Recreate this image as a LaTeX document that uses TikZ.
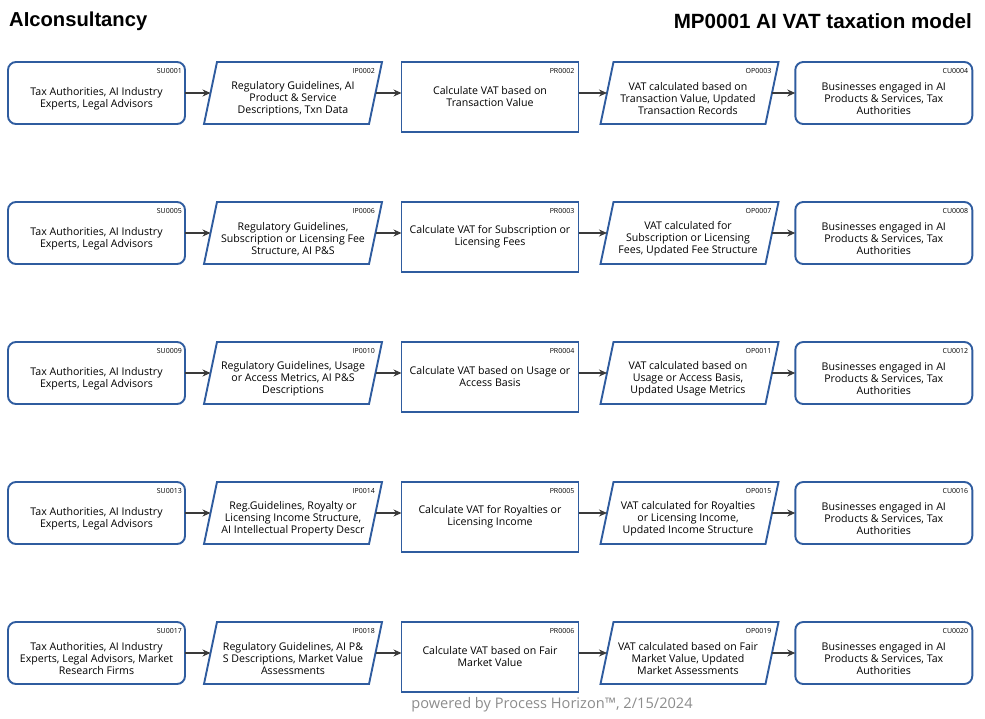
\documentclass[tikz,border=0pt]{standalone}
\usepackage{fontspec}
\setmainfont{Open Sans}
\newfontfamily\titlefont{Liberation Sans}
\usetikzlibrary{calc,arrows.meta}
\definecolor{bcol}{HTML}{2F5C9F}
\definecolor{acol}{HTML}{3A3A3A}
\definecolor{fcol}{HTML}{8C8C8C}
\newcommand\mkrow[2]{%
 \node[rbox] (su#1) at (96.5,{#2+31}) {};
 \node[pbox] (ip#1) at (293,{#2+31}) {};
 \node[prbox] (pr#1) at (490,{#2+35}) {};
 \node[pbox] (op#1) at (689.5,{#2+31}) {};
 \node[rbox] (cu#1) at (883.8,{#2+31}) {};
 \foreach \nn in {ip#1,op#1} \draw[pbord] ($(\nn.south west)+(-6.5,0)$) -- ($(\nn.north west)+(6.5,0)$) -- ($(\nn.north east)+(6.5,0)$) -- ($(\nn.south east)+(-6.5,0)$) -- cycle;
 \draw[arr] (su#1.east) -- (ip#1.west);
 \draw[arr] (ip#1.east) -- (ip#1.east -| pr#1.west);
 \draw[arr] (pr#1.east |- op#1.west) -- (op#1.west);
 \draw[arr] (op#1.east) -- (cu#1.west);
}
\newcommand\mkids[6]{%
 \node[idl] (su#1id) at ($(su#1.north east)+(-3,9)$) {#2};
 \node[idl] (ip#1id) at ($(ip#1.north east)+(-0.5,9)$) {#3};
 \node[idl] (pr#1id) at ($(pr#1.north east)+(-4,9)$) {#4};
 \node[idl] (op#1id) at ($(op#1.north east)+(-0.5,9)$) {#5};
 \node[idl] (cu#1id) at ($(cu#1.north east)+(-4,9)$) {#6};
}
\begin{document}
\begin{tikzpicture}[x=1pt,y=-1pt,
  box/.style={draw=bcol, line width=1.9pt, minimum width=177pt, minimum height=62pt, inner sep=0pt, outer sep=0pt},
  rbox/.style={box, rounded corners=8pt},
  prbox/.style={box, minimum height=70pt},
  pbox/.style={minimum width=165pt, minimum height=62pt, inner sep=0pt, outer sep=0pt},
  pbord/.style={draw=bcol, line width=1.9pt, line join=miter},
  txt/.style={align=center, font=\fontsize{10.6}{12}\selectfont, inner sep=0pt},
  idl/.style={anchor=east, font=\fontsize{7}{8}\selectfont, inner sep=0pt},
  arr/.style={draw=acol, line width=1.3pt, -{Stealth[length=8pt,width=7pt]}}
]
\useasboundingbox (0,0) rectangle (985,718);
\node[anchor=west, inner sep=0pt, font=\titlefont\bfseries\fontsize{20.2}{24}\selectfont] (title) at (9,21) {AIconsultancy};
\node[anchor=east, inner sep=0pt, font=\titlefont\bfseries\fontsize{20.6}{24}\selectfont] (model) at (972,21) {MP0001 AI VAT taxation model};

\mkrow{1}{62}
\mkrow{2}{202}
\mkrow{3}{342}
\mkrow{4}{482}
\mkrow{5}{622}

\mkids{1}{SU0001}{IP0002}{PR0002}{OP0003}{CU0004}
\mkids{2}{SU0005}{IP0006}{PR0003}{OP0007}{CU0008}
\mkids{3}{SU0009}{IP0010}{PR0004}{OP0011}{CU0012}
\mkids{4}{SU0013}{IP0014}{PR0005}{OP0015}{CU0016}
\mkids{5}{SU0017}{IP0018}{PR0006}{OP0019}{CU0020}

% row 1
\node[txt] (su1t) at (96.5,99) {Tax Authorities, AI Industry\\Experts, Legal Advisors};
\node[txt] (ip1t) at (293,99) {Regulatory Guidelines, AI\\Product \& Service\\Descriptions, Txn Data};
\node[txt] (pr1t) at (490,97) {Calculate VAT based on\\Transaction Value};
\node[txt] (op1t) at (688,99) {VAT calculated based on\\Transaction Value, Updated\\Transaction Records};
\node[txt] (cu1t) at (883.8,99) {Businesses engaged in AI\\Products \& Services, Tax\\Authorities};
% row 2
\node[txt] (su2t) at (96.5,239) {Tax Authorities, AI Industry\\Experts, Legal Advisors};
\node[txt] (ip2t) at (293,239) {Regulatory Guidelines,\\Subscription or Licensing Fee\\Structure, AI P\&S};
\node[txt] (pr2t) at (490,237) {Calculate VAT for Subscription or\\Licensing Fees};
\node[txt] (op2t) at (688,239) {VAT calculated for\\Subscription or Licensing\\Fees, Updated Fee Structure};
\node[txt] (cu2t) at (883.8,239) {Businesses engaged in AI\\Products \& Services, Tax\\Authorities};
% row 3
\node[txt] (su3t) at (96.5,379) {Tax Authorities, AI Industry\\Experts, Legal Advisors};
\node[txt] (ip3t) at (293,379) {Regulatory Guidelines, Usage\\or Access Metrics, AI P\&S\\Descriptions};
\node[txt] (pr3t) at (490,377) {Calculate VAT based on Usage or\\Access Basis};
\node[txt] (op3t) at (688,379) {VAT calculated based on\\Usage or Access Basis,\\Updated Usage Metrics};
\node[txt] (cu3t) at (883.8,379) {Businesses engaged in AI\\Products \& Services, Tax\\Authorities};
% row 4
\node[txt] (su4t) at (96.5,519) {Tax Authorities, AI Industry\\Experts, Legal Advisors};
\node[txt] (ip4t) at (293,519) {Reg.Guidelines, Royalty or\\Licensing Income Structure,\\AI Intellectual Property Descr};
\node[txt] (pr4t) at (490,517) {Calculate VAT for Royalties or\\Licensing Income};
\node[txt] (op4t) at (688,519) {VAT calculated for Royalties\\or Licensing Income,\\Updated Income Structure};
\node[txt] (cu4t) at (883.8,519) {Businesses engaged in AI\\Products \& Services, Tax\\Authorities};
% row 5
\node[txt] (su5t) at (96.5,659) {Tax Authorities, AI Industry\\Experts, Legal Advisors, Market\\Research Firms};
\node[txt] (ip5t) at (293,659) {Regulatory Guidelines, AI P\&\\S Descriptions, Market Value\\Assessments};
\node[txt] (pr5t) at (490,657) {Calculate VAT based on Fair\\Market Value};
\node[txt] (op5t) at (688,659) {VAT calculated based on Fair\\Market Value, Updated\\Market Assessments};
\node[txt] (cu5t) at (883.8,659) {Businesses engaged in AI\\Products \& Services, Tax\\Authorities};

\node[text=fcol, inner sep=0pt, font=\fontsize{14.6}{17}\selectfont] (foot) at (552,705) {powered by Process Horizon™, 2/15/2024};
\end{tikzpicture}
\end{document}
